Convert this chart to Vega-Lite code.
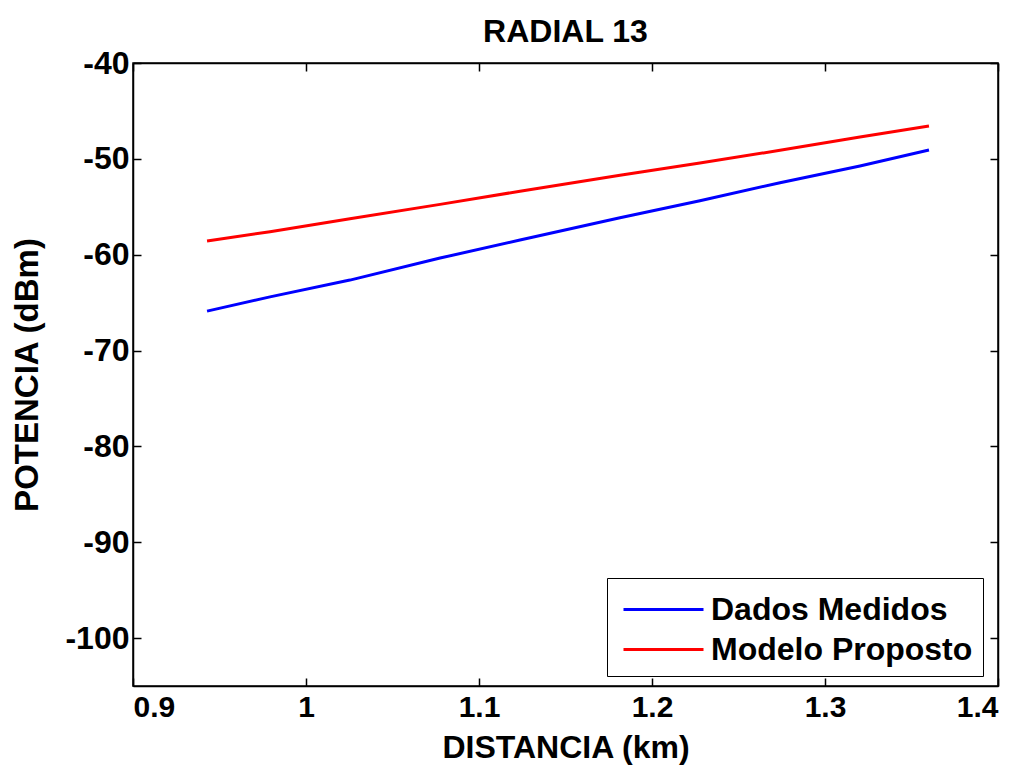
{
  "$schema": "https://vega.github.io/schema/vega-lite/v6.json",
  "autosize": "none",
  "width": 865,
  "height": 623,
  "padding": {"left": 133, "top": 63, "right": 28, "bottom": 83},
  "background": "white",
  "title": {"text": "RADIAL 13", "fontSize": 32, "font": "Liberation Sans", "fontWeight": "bold", "color": "black", "offset": -2},
  "config": {
    "view": {"stroke": "black", "strokeWidth": 1.5},
    "axis": {"grid": false, "domainColor": "black", "domainWidth": 1.5, "tickColor": "black", "tickWidth": 1.5, "labelFont": "Liberation Sans", "labelFontWeight": "bold", "labelFontSize": 30, "labelColor": "black", "titleFont": "Liberation Sans", "titleFontWeight": "bold", "titleFontSize": 32, "titleColor": "black"}
  },
  "data": {"values": [
    {"d": 0.9428, "p": -65.89, "s": "Dados Medidos"},
    {"d": 0.9792, "p": -64.40, "s": "Dados Medidos"},
    {"d": 1.0254, "p": -62.65, "s": "Dados Medidos"},
    {"d": 1.0775, "p": -60.35, "s": "Dados Medidos"},
    {"d": 1.1237, "p": -58.47, "s": "Dados Medidos"},
    {"d": 1.1815, "p": -56.15, "s": "Dados Medidos"},
    {"d": 1.2277, "p": -54.37, "s": "Dados Medidos"},
    {"d": 1.2740, "p": -52.49, "s": "Dados Medidos"},
    {"d": 1.3202, "p": -50.74, "s": "Dados Medidos"},
    {"d": 1.3601, "p": -49.08, "s": "Dados Medidos"},
    {"d": 0.9428, "p": -58.58, "s": "Modelo Proposto"},
    {"d": 0.9792, "p": -57.60, "s": "Modelo Proposto"},
    {"d": 1.0254, "p": -56.25, "s": "Modelo Proposto"},
    {"d": 1.0775, "p": -54.75, "s": "Modelo Proposto"},
    {"d": 1.1237, "p": -53.38, "s": "Modelo Proposto"},
    {"d": 1.1815, "p": -51.71, "s": "Modelo Proposto"},
    {"d": 1.2277, "p": -50.43, "s": "Modelo Proposto"},
    {"d": 1.2740, "p": -49.11, "s": "Modelo Proposto"},
    {"d": 1.3202, "p": -47.72, "s": "Modelo Proposto"},
    {"d": 1.3601, "p": -46.58, "s": "Modelo Proposto"}
  ]},
  "layer": [
    {
      "mark": {"type": "line", "strokeWidth": 3},
      "encoding": {
        "x": {"field": "d", "type": "quantitative", "scale": {"domain": [0.9, 1.4], "nice": false, "zero": false},
              "axis": {"title": "DISTANCIA (km)", "values": [0.9, 1, 1.1, 1.2, 1.3, 1.4], "labelExpr": "'' + datum.value", "tickSize": -8, "labelPadding": 14, "titlePadding": 10}},
        "y": {"field": "p", "type": "quantitative", "scale": {"domain": [-105, -40], "nice": false, "zero": false},
              "axis": {"title": "POTENCIA (dBm)", "titleFontSize": 33, "labelFontSize": 32, "values": [-40, -50, -60, -70, -80, -90, -100], "labelExpr": "'' + datum.value", "tickSize": -8, "labelPadding": 12, "titlePadding": 20}},
        "color": {"field": "s", "type": "nominal", "scale": {"domain": ["Dados Medidos", "Modelo Proposto"], "range": ["#0000ff", "#ff0000"]},
                  "legend": {"title": null, "orient": "none", "legendX": 474, "legendY": 515, "symbolType": "M-1,0H3", "symbolSize": 1600, "symbolStrokeWidth": 3, "symbolFillColor": "transparent", "labelFontSize": 32, "labelFont": "Liberation Sans", "labelFontWeight": "bold", "labelColor": "black", "labelLimit": 0, "strokeColor": "black", "fillColor": "white", "padding": 10, "rowPadding": 2, "labelOffset": 46, "symbolOffset": 5}}
      }
    },
    {
      "mark": {"type": "line", "strokeWidth": 0, "opacity": 0},
      "encoding": {
        "x": {"field": "d", "type": "quantitative", "axis": {"orient": "top", "title": null, "labels": false, "values": [0.9, 1, 1.1, 1.2, 1.3, 1.4], "tickSize": -8}},
        "y": {"field": "p", "type": "quantitative", "axis": {"orient": "right", "title": null, "labels": false, "values": [-40, -50, -60, -70, -80, -90, -100], "tickSize": -8}}
      }
    }
  ],
  "resolve": {"axis": {"x": "independent", "y": "independent"}}
}
